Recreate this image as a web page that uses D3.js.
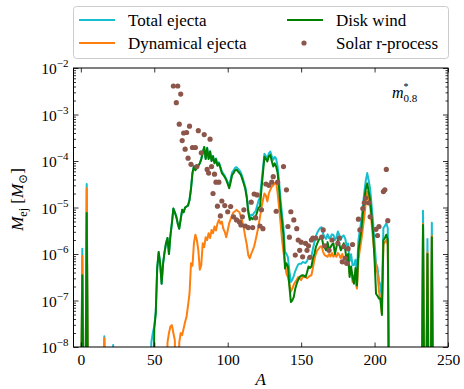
<!DOCTYPE html>
<html>
<head>
<meta charset="utf-8">
<script src="https://cdn.jsdelivr.net/npm/d3@7"></script>
<style>
  body { margin: 0; background: #fff; }
  svg { display: block; font-family: "Liberation Serif", "DejaVu Serif", serif; }
</style>
</head>
<body>
<svg id="chart" width="464" height="389"></svg>
<script>
// ---- data (mass number A, ejecta mass in solar masses; 0 = nothing ejected) ----
const totalLow = [[0,0],[1,1.3e-6],[2,0],[3,0],[4,3.2e-5],[5,0],[15,0],[16,1.7e-8],[17,0],[21,0],[22,1.1e-8],[23,0],[47,0],[48,1.26e-8],[49,2.0e-8],[50,2.8e-8],[51,5.6e-8]];
const totalBody = [[52,5.0e-7],[53,1.1e-6],[54,6.3e-7],[55,2.3e-7],[56,6.3e-7],[57,1.1e-6],[58,1.7e-6],[59,2.2e-6],[60,1.0e-6],[61,2.5e-6],[62,4.6e-6],[63,9.5e-6],[64,7.9e-6],[65,6.3e-6],[66,4.5e-6],[67,3.5e-6],[68,5.6e-6],[69,8.9e-6],[70,7.9e-6],[71,1.0e-5],[72,1.05e-5],[73,1.1e-5],[74,1.46e-5],[75,2.56e-5],[76,5.56e-5],[77,7.8e-5],[78,6.6e-5],[79,7.3e-5],[80,8.0e-5],[81,8.95e-5],[82,1.1e-4],[83,1.52e-4],[84,2.01e-4],[85,1.12e-4],[86,1.92e-4],[87,1.13e-4],[88,1.62e-4],[89,1.03e-4],[90,1.29e-4],[91,9.3e-5],[92,1.13e-4],[93,8.35e-5],[94,9.4e-5],[95,7.55e-5],[96,6.0e-5],[97,5.35e-5],[98,4.8e-5],[99,4.13e-5],[100,3.5e-5],[101,3.06e-5],[102,4.06e-5],[103,5.7e-5],[104,6.3e-5],[105,7.1e-5],[106,7.4e-5],[107,6.8e-5],[108,6.3e-5],[109,5.6e-5],[110,4.5e-5],[111,3.55e-5],[112,2.73e-5],[113,1.76e-5],[114,8.85e-6],[115,6.2e-6],[116,7.0e-6],[117,6.8e-6],[118,7.75e-6],[119,8.3e-6],[120,1.07e-5],[121,1.4e-5],[122,1.68e-5],[123,3.5e-5],[124,6.95e-5],[125,1.43e-4],[126,1.28e-4],[127,1.12e-4],[128,1.46e-4],[129,1.59e-4],[130,1.28e-4],[131,1.06e-4],[132,1.22e-4],[133,1.11e-4],[134,7.5e-5],[135,3.5e-5],[136,1.46e-5],[137,7.0e-6],[138,3.6e-6],[139,1.12e-6],[140,1.01e-6],[141,8.6e-7],[142,4.3e-7],[143,2.5e-7],[144,2.8e-7],[145,3.4e-7],[146,4.3e-7],[147,5.1e-7],[148,6.0e-7],[149,6.2e-7],[150,6.15e-7],[151,6.7e-7],[152,6.6e-7],[153,6.4e-7],[154,7.0e-7],[155,8.6e-7],[156,8.4e-7],[157,8.9e-7],[158,1.29e-6],[159,1.74e-6],[160,2.4e-6],[161,2.9e-6],[162,3.3e-6],[163,3.65e-6],[164,3.75e-6],[165,2.7e-6],[166,2.35e-6],[167,2.1e-6],[168,2.67e-6],[169,2.2e-6],[170,2.3e-6],[171,2.65e-6],[172,2.57e-6],[173,2.0e-6],[174,2.27e-6],[175,3.05e-6],[176,2.55e-6],[177,2.0e-6],[178,2.4e-6],[179,2.5e-6],[180,2.15e-6],[181,1.5e-6],[182,1.68e-6],[183,7.0e-7],[184,9.9e-7],[185,5.7e-7],[186,5.8e-7],[187,7.5e-7],[188,3.9e-7],[189,1.94e-6],[190,3.26e-6],[191,5.3e-6],[192,1.06e-5],[193,2.08e-5],[194,3.76e-5],[195,5.5e-5],[196,3.8e-5],[197,2.5e-5],[198,1.08e-5],[199,4.8e-6],[200,1.74e-6],[201,6.3e-7],[202,5.06e-7],[203,2.7e-7],[204,2.1e-7],[205,1.01e-7],[206,3.6e-6],[207,4.0e-6],[208,4.6e-6],[209,3.6e-6],[210,0]];
const totalHigh = [[232,0],[233,8.5e-6],[234,0],[235,0],[236,2.1e-6],[237,0],[238,0],[239,4.7e-6],[240,0]];

const dynLow = [[0,0],[1,9.1e-7],[2,0],[3,0],[4,2.6e-5],[5,0],[15,0],[16,1.55e-8],[17,0],[58,0]];
const dynBody = [[59,1.26e-8],[60,2.0e-8],[61,2.75e-8],[62,2.95e-8],[63,2.0e-8],[64,1.4e-8],[65,0],[66,0],[67,1.26e-8],[68,2.0e-8],[69,1.8e-8],[70,2.5e-8],[71,3.5e-8],[72,4.5e-8],[73,7.9e-8],[74,1.4e-7],[75,6.3e-7],[76,5.6e-7],[77,1.7e-6],[78,2.6e-6],[79,2.0e-6],[80,1.2e-6],[81,4.6e-7],[82,5.8e-7],[83,1.7e-6],[84,1.4e-6],[85,2.3e-6],[86,2.0e-6],[87,2.8e-6],[88,2.2e-6],[89,3.3e-6],[90,2.8e-6],[91,3.9e-6],[92,3.2e-6],[93,4.5e-6],[94,5.4e-6],[95,4.5e-6],[96,5.0e-6],[97,3.5e-6],[98,3.0e-6],[99,2.3e-6],[100,3.2e-6],[101,4.6e-6],[102,5.6e-6],[103,6.9e-6],[104,7.9e-6],[105,8.3e-6],[106,8.9e-6],[107,8.3e-6],[108,7.9e-6],[109,6.3e-6],[110,5.0e-6],[111,3.5e-6],[112,2.3e-6],[113,1.6e-6],[114,9.5e-7],[115,8.1e-7],[116,1.0e-6],[117,1.2e-6],[118,1.45e-6],[119,2.0e-6],[120,2.8e-6],[121,4.0e-6],[122,6.3e-6],[123,1.0e-5],[124,1.45e-5],[125,2.0e-5],[126,1.8e-5],[127,1.35e-5],[128,2.0e-5],[129,2.4e-5],[130,2.8e-5],[131,3.0e-5],[132,3.3e-5],[133,3.5e-5],[134,2.0e-5],[135,1.0e-5],[136,4.6e-6],[137,2.0e-6],[138,1.1e-6],[139,6.3e-7],[140,3.8e-7],[141,3.2e-7],[142,2.3e-7],[143,1.55e-7],[144,1.8e-7],[145,2.2e-7],[146,2.5e-7],[147,2.8e-7],[148,3.2e-7],[149,3.0e-7],[150,2.75e-7],[151,3.2e-7],[152,3.2e-7],[153,3.2e-7],[154,3.0e-7],[155,3.2e-7],[156,3.4e-7],[157,3.5e-7],[158,5.0e-7],[159,7.4e-7],[160,1.0e-6],[161,1.2e-6],[162,1.3e-6],[163,1.45e-6],[164,1.45e-6],[165,1.1e-6],[166,9.5e-7],[167,9.1e-7],[168,8.7e-7],[169,1.0e-6],[170,8.9e-7],[171,1.05e-6],[172,8.7e-7],[173,1.0e-6],[174,8.7e-7],[175,1.05e-6],[176,9.5e-7],[177,8.1e-7],[178,1.0e-6],[179,8.1e-7],[180,8.9e-7],[181,7.6e-7],[182,6.8e-7],[183,3.8e-7],[184,4.5e-7],[185,2.5e-7],[186,3.5e-7],[187,2.5e-7],[188,1.8e-7],[189,7.4e-7],[190,1.26e-6],[191,2.0e-6],[192,3.5e-6],[193,6.3e-6],[194,1.26e-5],[195,2.2e-5],[196,1.6e-5],[197,1.05e-5],[198,4.5e-6],[199,2.0e-6],[200,1.0e-6],[201,4.9e-7],[202,3.8e-7],[203,1.6e-7],[204,1.0e-7],[205,5.2e-8],[206,1.6e-6],[207,1.8e-6],[208,2.0e-6],[209,1.6e-6],[210,0]];
const dynHigh = [[232,0],[233,4.5e-6],[234,0],[235,0],[236,1.1e-6],[237,0],[238,0],[239,2.5e-6],[240,0]];

const windLow = [[0,0],[1,3.5e-7],[2,0],[3,0],[4,7.6e-6],[5,0],[49,0]];
const windBody = [[50,2.5e-8],[51,5.2e-8],[52,5.0e-7],[53,1.1e-6],[54,6.3e-7],[55,2.3e-7],[56,6.3e-7],[57,1.1e-6],[58,1.7e-6],[59,2.2e-6],[60,1.0e-6],[61,2.5e-6],[62,4.6e-6],[63,9.5e-6],[64,7.9e-6],[65,6.3e-6],[66,4.5e-6],[67,3.5e-6],[68,5.6e-6],[69,8.9e-6],[70,7.9e-6],[71,1.0e-5],[72,1.05e-5],[73,1.1e-5],[74,1.45e-5],[75,2.5e-5],[76,5.5e-5],[77,7.6e-5],[78,6.3e-5],[79,7.1e-5],[80,7.9e-5],[81,8.9e-5],[82,1.1e-4],[83,1.5e-4],[84,2.0e-4],[85,1.1e-4],[86,1.9e-4],[87,1.1e-4],[88,1.6e-4],[89,1.0e-4],[90,1.26e-4],[91,8.9e-5],[92,1.1e-4],[93,7.9e-5],[94,8.9e-5],[95,7.1e-5],[96,5.5e-5],[97,5.0e-5],[98,4.5e-5],[99,3.9e-5],[100,3.2e-5],[101,2.6e-5],[102,3.5e-5],[103,5.0e-5],[104,5.5e-5],[105,6.3e-5],[106,6.5e-5],[107,6.0e-5],[108,5.5e-5],[109,5.0e-5],[110,4.0e-5],[111,3.2e-5],[112,2.5e-5],[113,1.6e-5],[114,7.9e-6],[115,5.4e-6],[116,6.0e-6],[117,5.6e-6],[118,6.3e-6],[119,6.3e-6],[120,7.9e-6],[121,1.0e-5],[122,1.05e-5],[123,2.5e-5],[124,5.5e-5],[125,1.23e-4],[126,1.1e-4],[127,9.8e-5],[128,1.26e-4],[129,1.35e-4],[130,1.0e-4],[131,7.6e-5],[132,8.9e-5],[133,7.6e-5],[134,5.5e-5],[135,2.5e-5],[136,1.0e-5],[137,5.0e-6],[138,2.5e-6],[139,4.9e-7],[140,6.3e-7],[141,5.4e-7],[142,2.0e-7],[143,9.3e-8],[144,1.0e-7],[145,1.2e-7],[146,1.8e-7],[147,2.3e-7],[148,2.8e-7],[149,3.2e-7],[150,3.4e-7],[151,3.5e-7],[152,3.4e-7],[153,3.2e-7],[154,4.0e-7],[155,5.4e-7],[156,5.0e-7],[157,5.4e-7],[158,7.9e-7],[159,1.0e-6],[160,1.4e-6],[161,1.7e-6],[162,2.0e-6],[163,2.2e-6],[164,2.3e-6],[165,1.6e-6],[166,1.4e-6],[167,1.2e-6],[168,1.8e-6],[169,1.2e-6],[170,1.4e-6],[171,1.6e-6],[172,1.7e-6],[173,1.0e-6],[174,1.4e-6],[175,2.0e-6],[176,1.6e-6],[177,1.2e-6],[178,1.4e-6],[179,1.7e-6],[180,1.26e-6],[181,7.4e-7],[182,1.0e-6],[183,3.2e-7],[184,5.4e-7],[185,3.2e-7],[186,2.3e-7],[187,5.0e-7],[188,2.1e-7],[189,1.2e-6],[190,2.0e-6],[191,3.3e-6],[192,7.1e-6],[193,1.45e-5],[194,2.5e-5],[195,3.3e-5],[196,2.2e-5],[197,1.45e-5],[198,6.3e-6],[199,2.8e-6],[200,7.4e-7],[201,1.4e-7],[202,1.26e-7],[203,1.1e-7],[204,1.1e-7],[205,4.9e-8],[206,2.0e-6],[207,2.2e-6],[208,2.6e-6],[209,2.0e-6],[210,0]];
const windHigh = [[232,0],[233,4.2e-6],[234,0],[235,0],[236,1.0e-6],[237,0],[238,0],[239,2.3e-6],[240,0]];

const solarA = [63,65,66,67,68,69,70,71,72,73,74,75,76,78,79,80,82,84,86,87,88,89,90,91,92,93,94,95,96,98,100,102,104,106,108,109,110,111,112,114,116,117,118,119,120,122,123,124,126,128,130,131,133,134,138,140,141,142,143,145,146,147,148,149,150,151,153,154,155,156,157,158,160,164,165,166,169,171,175,176,178,179,180,181,182,185,189,190,192,193,194,196,197,201,202,203,206,207,208,209];
const solarM = [4.1e-3,1.8e-3,4.1e-3,6.2e-4,2.75e-3,2.75e-4,4.0e-4,1.8e-4,4.1e-4,1.15e-4,5.6e-4,8.5e-5,1.95e-4,1.95e-4,7.6e-5,4.5e-4,1.5e-4,3.7e-4,6.6e-5,5.5e-5,2.95e-4,7.6e-5,2.0e-5,5.2e-5,3.5e-5,1.07e-5,3.5e-5,6.6e-6,1.38e-5,1.1e-5,8.1e-6,1.05e-5,6.3e-6,5.4e-6,4.9e-6,4.2e-6,6.3e-6,8.9e-6,4.0e-6,3.7e-6,1.3e-5,3.7e-6,1.95e-5,6.0e-6,1.86e-5,4.0e-6,8.9e-6,3.5e-6,3.2e-5,3.0e-5,3.5e-5,4.6e-5,8.3e-6,3.5e-5,7.6e-5,2.4e-5,3.9e-6,2.3e-6,8.1e-6,5.4e-6,9.5e-7,3.5e-6,2.0e-6,1.2e-6,1.8e-6,8.7e-7,1.7e-6,1.2e-6,1.5e-6,8.5e-7,2.0e-6,2.2e-6,2.2e-6,2.3e-6,3.3e-6,1.5e-6,1.2e-6,2.0e-6,1.7e-6,2.2e-6,6.8e-7,1.45e-6,8.1e-7,6.3e-7,1.3e-6,1.6e-6,5.6e-6,3.3e-6,9.5e-6,1.26e-5,1.6e-5,1.26e-5,6.3e-6,3.4e-6,2.5e-6,3.9e-6,2.2e-5,2.4e-5,6.6e-5,5.2e-6];

const xTicks = [0, 50, 100, 150, 200, 250];
const yDecades = [-8, -7, -6, -5, -4, -3, -2];
const legendItems = [
  { label: "Total ejecta", color: "#17becf", kind: "line", col: 0, row: 0 },
  { label: "Dynamical ejecta", color: "#ff7f0e", kind: "line", col: 0, row: 1 },
  { label: "Disk wind", color: "#008000", kind: "line", col: 1, row: 0 },
  { label: "Solar r-process", color: "#8c564b", kind: "dot", col: 1, row: 1 }
];

// ---- layout ----
const svg = d3.select("#chart");
const pL = 73.5, pR = 448, pT = 68, pB = 347;

const x = d3.scaleLinear().domain([-5, 250]).range([pL, pR]);
const y = d3.scaleLog().domain([1e-8, 1e-2]).range([pB, pT]);
const yOf = m => y(Math.max(m, 1e-10)); // zero mass drops below the axis

svg.append("defs").append("clipPath").attr("id", "plotclip")
  .append("rect").attr("x", pL).attr("y", pT).attr("width", pR - pL).attr("height", pB - pT);

const line = d3.line().x(d => x(d[0])).y(d => yOf(d[1]));

const plot = svg.append("g").attr("clip-path", "url(#plotclip)");
const series = [
  { data: totalLow.concat(totalBody, totalHigh), color: "#17becf" },
  { data: dynLow.concat(dynBody, dynHigh), color: "#ff7f0e" },
  { data: windLow.concat(windBody, windHigh), color: "#008000" }
];
series.forEach(s => {
  plot.append("path").datum(s.data)
    .attr("d", line)
    .attr("fill", "none")
    .attr("stroke", s.color)
    .attr("stroke-width", 2)
    .attr("stroke-linejoin", "round");
});

plot.append("g").selectAll("circle")
  .data(solarA.map((a, i) => [a, solarM[i]]))
  .enter().append("circle")
  .attr("cx", d => x(d[0]))
  .attr("cy", d => y(d[1]))
  .attr("r", 2.6)
  .attr("fill", "#8c564b");

// ---- axes (ticks pointing inwards) ----
const minorY = [];
yDecades.slice(0, -1).forEach(e => { for (let k = 2; k <= 9; k++) minorY.push(k * Math.pow(10, e)); });
const majorY = yDecades.map(e => Math.pow(10, e));

function styleAxis(g) {
  g.select(".domain").remove();
  g.selectAll(".tick line").attr("stroke", "#000").attr("stroke-width", 0.8);
}

svg.append("g").attr("transform", `translate(0,${pB})`)
  .call(d3.axisBottom(x).tickValues(xTicks).tickSize(-4.5).tickPadding(7).tickFormat(d3.format("d")))
  .call(styleAxis)
  .call(g => g.selectAll("text").attr("font-size", 15.5).attr("fill", "#000")
    .attr("font-family", "'Liberation Serif', serif"));

svg.append("g").attr("transform", `translate(0,${pT})`)
  .call(d3.axisTop(x).tickValues(xTicks).tickSize(-4.5).tickFormat(""))
  .call(styleAxis);

[[pL, d3.axisLeft], [pR, d3.axisRight]].forEach(([pos, axisFn]) => {
  svg.append("g").attr("transform", `translate(${pos},0)`)
    .call(axisFn(y).tickValues(minorY).tickSize(-2.5).tickFormat(""))
    .call(styleAxis);
});

svg.append("g").attr("transform", `translate(${pR},0)`)
  .call(d3.axisRight(y).tickValues(majorY).tickSize(-5).tickFormat(""))
  .call(styleAxis);

const yAxisG = svg.append("g").attr("transform", `translate(${pL},0)`)
  .call(d3.axisLeft(y).tickValues(majorY).tickSize(-5).tickPadding(5).tickFormat(""))
  .call(styleAxis);
yAxisG.selectAll(".tick").each(function (d) {
  const t = d3.select(this).select("text")
    .attr("font-size", 15.5).attr("fill", "#000").attr("dy", "0.36em")
    .attr("font-family", "'Liberation Serif', serif");
  t.append("tspan").text("10");
  t.append("tspan").attr("font-size", 11).attr("dy", "-0.6em")
    .text("\u2212" + Math.round(-Math.log10(d)));
});

// frame
svg.append("rect").attr("x", pL).attr("y", pT)
  .attr("width", pR - pL).attr("height", pB - pT)
  .attr("fill", "none").attr("stroke", "#000").attr("stroke-width", 1);

// axis labels
svg.append("text").attr("x", (pL + pR) / 2).attr("y", 385)
  .attr("text-anchor", "middle").attr("font-size", 17).attr("font-style", "italic").text("A");

const yl = svg.append("text")
  .attr("transform", `translate(23,${(pT + pB) / 2 - 8}) rotate(-90)`)
  .attr("text-anchor", "middle").attr("font-size", 17);
yl.append("tspan").attr("font-style", "italic").text("M");
yl.append("tspan").attr("font-size", 12).attr("dy", 3.5).text("ej");
yl.append("tspan").attr("dy", -3.5).text(" [");
yl.append("tspan").attr("font-style", "italic").text("M");
yl.append("tspan").attr("font-size", 12).attr("dy", 3.5).text("\u2299");
yl.append("tspan").attr("dy", -3.5).text("]");

// model label: m with superscript star and subscript 0.8
const ml = svg.append("text").attr("x", 392).attr("y", 98).attr("font-size", 16);
ml.append("tspan").attr("font-style", "italic").text("m");
ml.append("tspan").attr("font-size", 10).attr("dy", -8).text("*");
ml.append("tspan").attr("font-size", 11).attr("dx", -5).attr("dy", 12).text("0.8");

// ---- legend ----
const lg = svg.append("g");
lg.append("rect").attr("x", 73.5).attr("y", 6.5).attr("width", 375).attr("height", 52)
  .attr("rx", 3).attr("fill", "#fff").attr("stroke", "#cccccc").attr("stroke-width", 1);
const colX = [79, 287];
const rowY = [20, 43];
legendItems.forEach(it => {
  const gx = colX[it.col], gy = rowY[it.row];
  if (it.kind === "line") {
    lg.append("line").attr("x1", gx).attr("x2", gx + 36).attr("y1", gy).attr("y2", gy)
      .attr("stroke", it.color).attr("stroke-width", 2);
  } else {
    lg.append("circle").attr("cx", gx + 17).attr("cy", gy).attr("r", 2.6).attr("fill", it.color);
  }
  lg.append("text").attr("x", gx + 49).attr("y", gy + 5.5).attr("font-size", 17).text(it.label);
});
</script>
</body>
</html>
